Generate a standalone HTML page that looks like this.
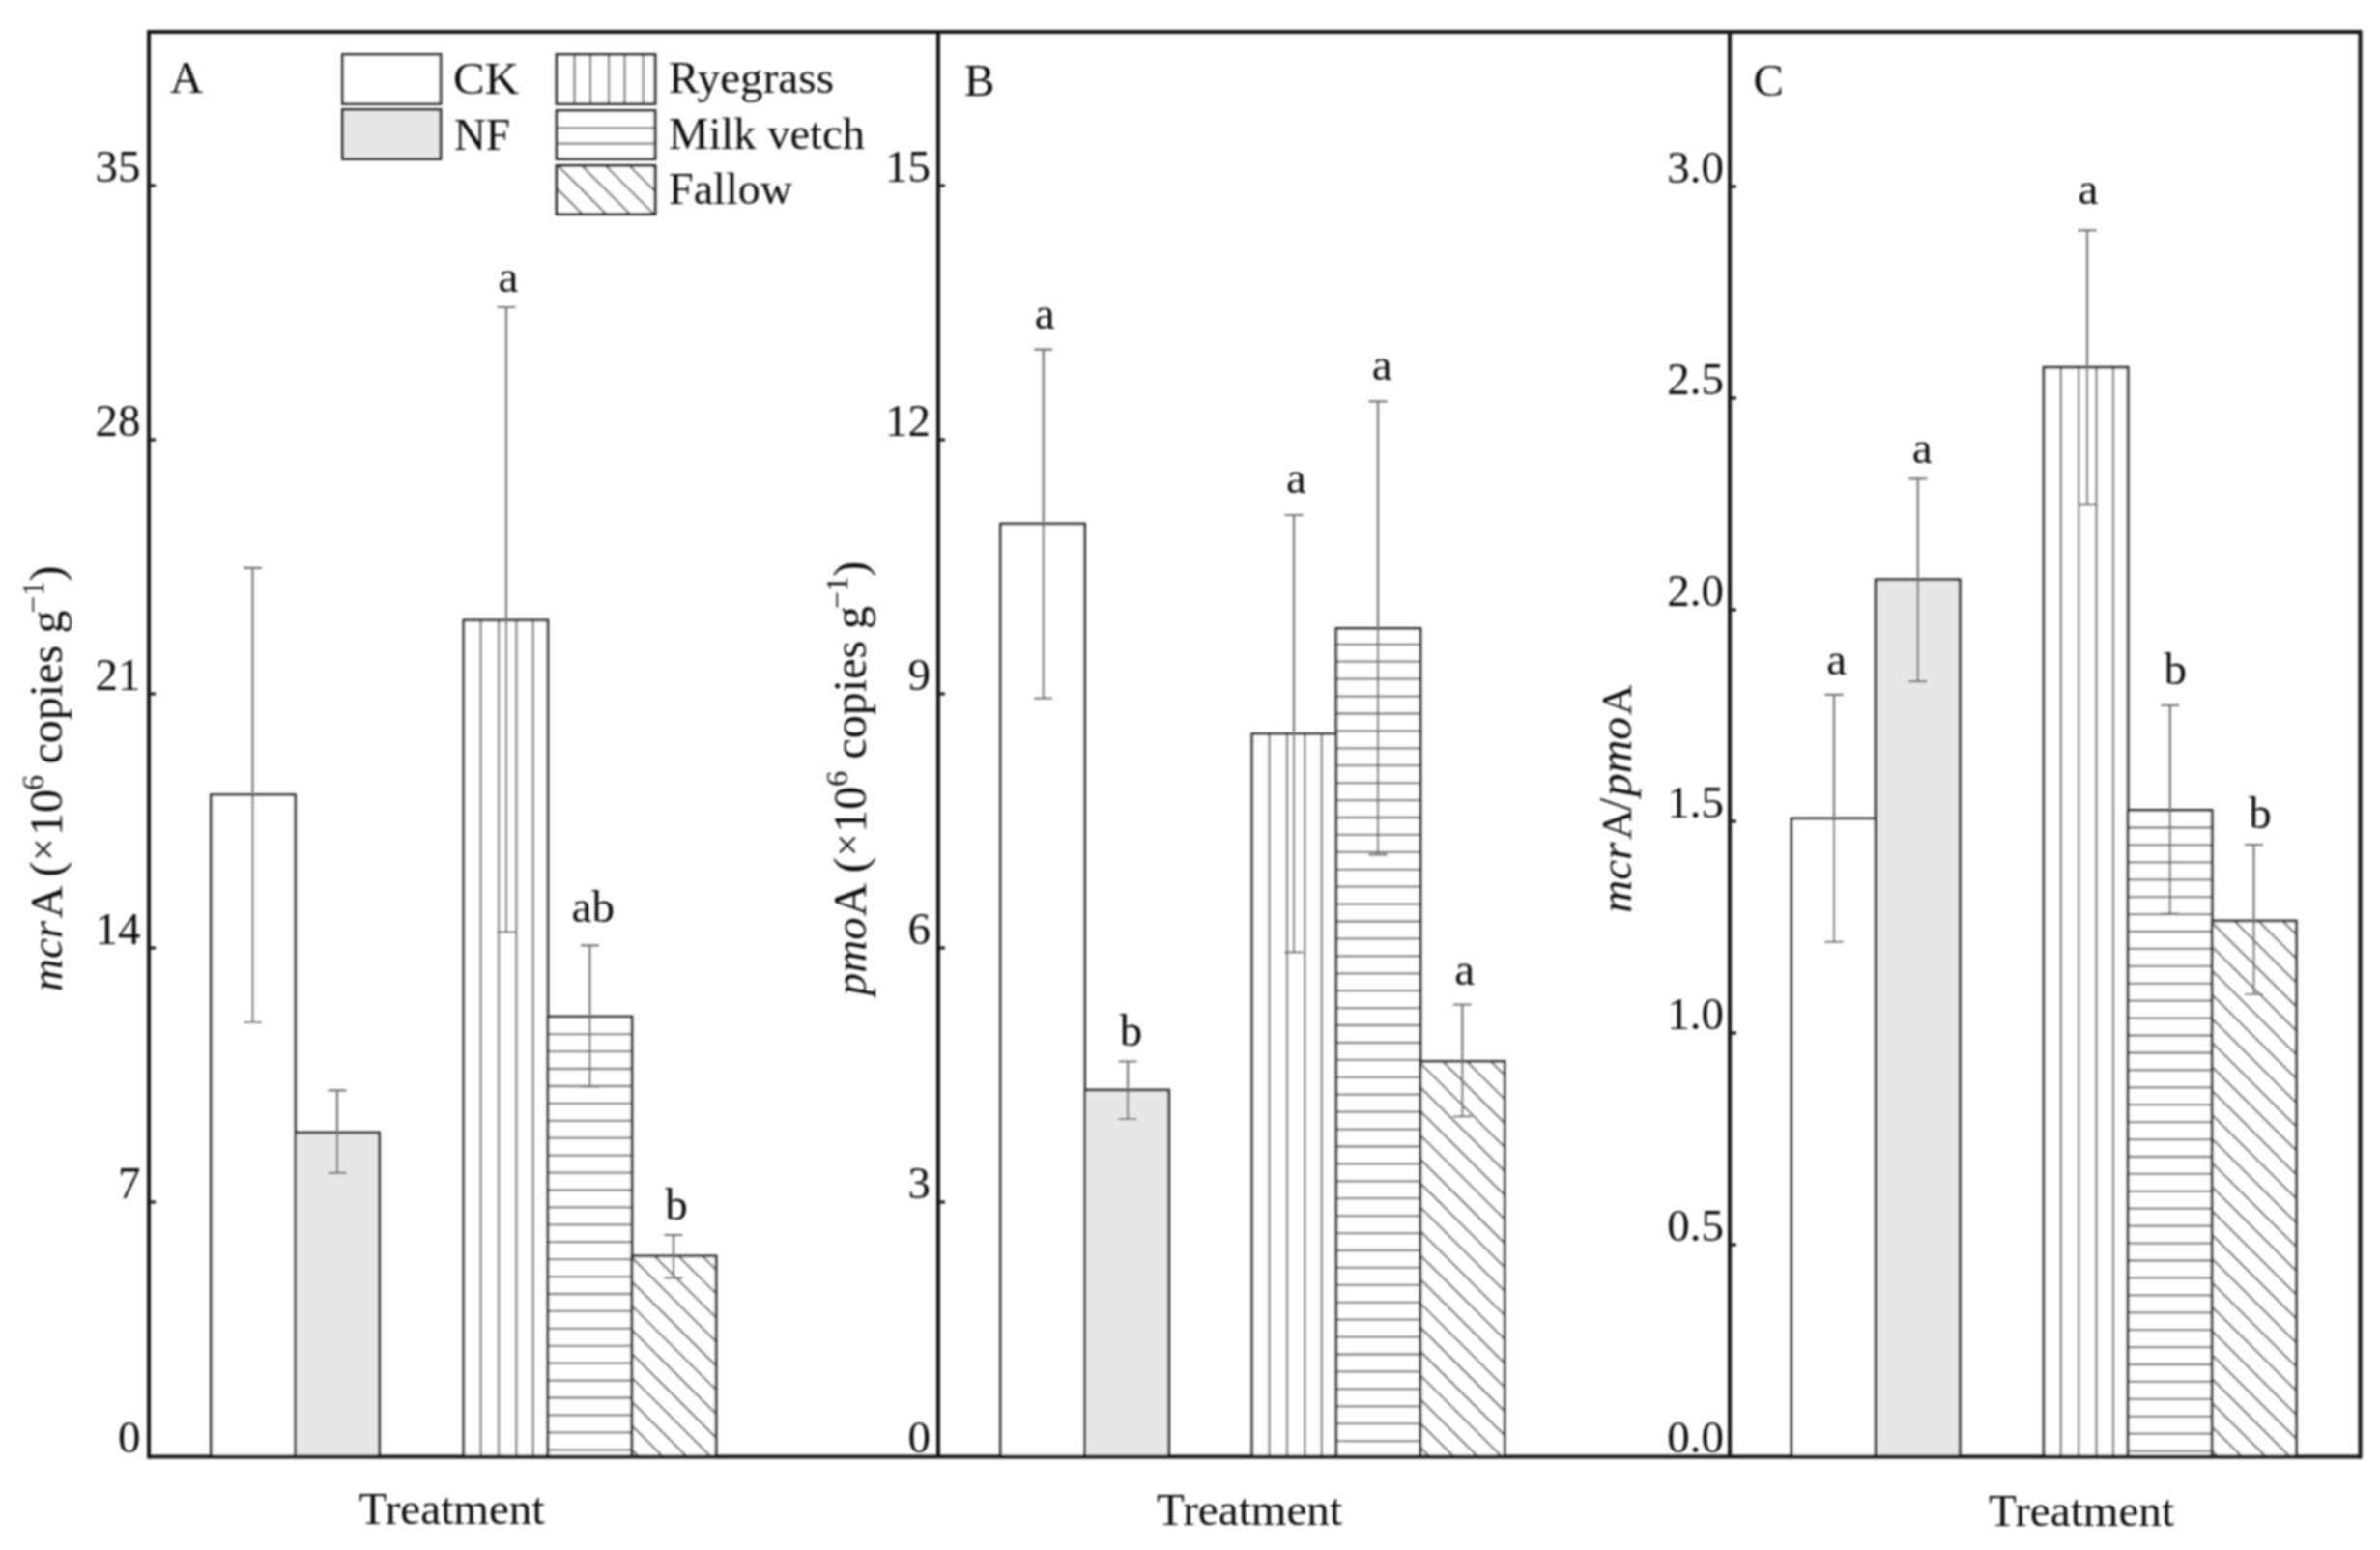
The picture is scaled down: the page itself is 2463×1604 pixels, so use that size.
<!DOCTYPE html>
<html><head><meta charset="utf-8"><title>Figure</title>
<style>
html,body{margin:0;padding:0;background:#fff;}
body{width:2463px;height:1604px;overflow:hidden;}
svg{display:block;}
text{font-family:"Liberation Serif", serif;font-size:47px;fill:#111;}
.it{font-style:italic;}
</style></head><body>
<svg width="2463" height="1604" viewBox="0 0 2463 1604">
<rect x="0" y="0" width="2463" height="1604" fill="#fff"/>
<filter id="soft" filterUnits="userSpaceOnUse" x="0" y="0" width="2463" height="1604"><feGaussianBlur stdDeviation="0.8"/></filter>
<g filter="url(#soft)">

<rect x="218.3" y="822.6" width="87.1" height="684.9" fill="#fff" stroke="#2e2e2e" stroke-width="2.8"/>
<rect x="305.4" y="1172.0" width="87.1" height="335.5" fill="#e7e7e7" stroke="#2e2e2e" stroke-width="2.8"/>
<rect x="479.8" y="641.9" width="87.1" height="865.6" fill="#fff"/>
<line x1="497.6" y1="641.9" x2="497.6" y2="1507.5" stroke="#787878" stroke-width="2.3"/>
<line x1="516.0" y1="641.9" x2="516.0" y2="1507.5" stroke="#787878" stroke-width="2.3"/>
<line x1="534.3" y1="641.9" x2="534.3" y2="1507.5" stroke="#787878" stroke-width="2.3"/>
<line x1="551.8" y1="641.9" x2="551.8" y2="1507.5" stroke="#787878" stroke-width="2.3"/>
<rect x="479.8" y="641.9" width="87.1" height="865.6" fill="none" stroke="#2e2e2e" stroke-width="2.8"/>
<rect x="566.9" y="1052.0" width="87.1" height="455.5" fill="#fff"/>
<line x1="566.9" y1="1070.2" x2="654.0" y2="1070.2" stroke="#787878" stroke-width="2.3"/>
<line x1="566.9" y1="1088.1" x2="654.0" y2="1088.1" stroke="#787878" stroke-width="2.3"/>
<line x1="566.9" y1="1106.0" x2="654.0" y2="1106.0" stroke="#787878" stroke-width="2.3"/>
<line x1="566.9" y1="1124.0" x2="654.0" y2="1124.0" stroke="#787878" stroke-width="2.3"/>
<line x1="566.9" y1="1141.9" x2="654.0" y2="1141.9" stroke="#787878" stroke-width="2.3"/>
<line x1="566.9" y1="1159.8" x2="654.0" y2="1159.8" stroke="#787878" stroke-width="2.3"/>
<line x1="566.9" y1="1177.7" x2="654.0" y2="1177.7" stroke="#787878" stroke-width="2.3"/>
<line x1="566.9" y1="1195.6" x2="654.0" y2="1195.6" stroke="#787878" stroke-width="2.3"/>
<line x1="566.9" y1="1213.6" x2="654.0" y2="1213.6" stroke="#787878" stroke-width="2.3"/>
<line x1="566.9" y1="1231.5" x2="654.0" y2="1231.5" stroke="#787878" stroke-width="2.3"/>
<line x1="566.9" y1="1249.4" x2="654.0" y2="1249.4" stroke="#787878" stroke-width="2.3"/>
<line x1="566.9" y1="1267.3" x2="654.0" y2="1267.3" stroke="#787878" stroke-width="2.3"/>
<line x1="566.9" y1="1285.2" x2="654.0" y2="1285.2" stroke="#787878" stroke-width="2.3"/>
<line x1="566.9" y1="1303.2" x2="654.0" y2="1303.2" stroke="#787878" stroke-width="2.3"/>
<line x1="566.9" y1="1321.1" x2="654.0" y2="1321.1" stroke="#787878" stroke-width="2.3"/>
<line x1="566.9" y1="1339.0" x2="654.0" y2="1339.0" stroke="#787878" stroke-width="2.3"/>
<line x1="566.9" y1="1356.9" x2="654.0" y2="1356.9" stroke="#787878" stroke-width="2.3"/>
<line x1="566.9" y1="1374.8" x2="654.0" y2="1374.8" stroke="#787878" stroke-width="2.3"/>
<line x1="566.9" y1="1392.8" x2="654.0" y2="1392.8" stroke="#787878" stroke-width="2.3"/>
<line x1="566.9" y1="1410.7" x2="654.0" y2="1410.7" stroke="#787878" stroke-width="2.3"/>
<line x1="566.9" y1="1428.6" x2="654.0" y2="1428.6" stroke="#787878" stroke-width="2.3"/>
<line x1="566.9" y1="1446.5" x2="654.0" y2="1446.5" stroke="#787878" stroke-width="2.3"/>
<line x1="566.9" y1="1464.4" x2="654.0" y2="1464.4" stroke="#787878" stroke-width="2.3"/>
<line x1="566.9" y1="1482.4" x2="654.0" y2="1482.4" stroke="#787878" stroke-width="2.3"/>
<line x1="566.9" y1="1500.3" x2="654.0" y2="1500.3" stroke="#787878" stroke-width="2.3"/>
<rect x="566.9" y="1052.0" width="87.1" height="455.5" fill="none" stroke="#2e2e2e" stroke-width="2.8"/>
<clipPath id="c654"><rect x="654.0" y="1299.8" width="87.1" height="207.7"/></clipPath>
<rect x="654.0" y="1299.8" width="87.1" height="207.7" fill="#fff"/>
<g clip-path="url(#c654)">
<line x1="654.0" y1="1177.2" x2="741.1" y2="1264.3" stroke="#787878" stroke-width="2.3"/>
<line x1="654.0" y1="1202.0" x2="741.1" y2="1289.2" stroke="#787878" stroke-width="2.3"/>
<line x1="654.0" y1="1226.9" x2="741.1" y2="1314.0" stroke="#787878" stroke-width="2.3"/>
<line x1="654.0" y1="1251.8" x2="741.1" y2="1338.8" stroke="#787878" stroke-width="2.3"/>
<line x1="654.0" y1="1276.6" x2="741.1" y2="1363.7" stroke="#787878" stroke-width="2.3"/>
<line x1="654.0" y1="1301.4" x2="741.1" y2="1388.5" stroke="#787878" stroke-width="2.3"/>
<line x1="654.0" y1="1326.3" x2="741.1" y2="1413.4" stroke="#787878" stroke-width="2.3"/>
<line x1="654.0" y1="1351.2" x2="741.1" y2="1438.2" stroke="#787878" stroke-width="2.3"/>
<line x1="654.0" y1="1376.0" x2="741.1" y2="1463.1" stroke="#787878" stroke-width="2.3"/>
<line x1="654.0" y1="1400.8" x2="741.1" y2="1487.9" stroke="#787878" stroke-width="2.3"/>
<line x1="654.0" y1="1425.7" x2="741.1" y2="1512.8" stroke="#787878" stroke-width="2.3"/>
<line x1="654.0" y1="1450.5" x2="741.1" y2="1537.7" stroke="#787878" stroke-width="2.3"/>
<line x1="654.0" y1="1475.4" x2="741.1" y2="1562.5" stroke="#787878" stroke-width="2.3"/>
<line x1="654.0" y1="1500.2" x2="741.1" y2="1587.3" stroke="#787878" stroke-width="2.3"/>
</g>
<rect x="654.0" y="1299.8" width="87.1" height="207.7" fill="none" stroke="#2e2e2e" stroke-width="2.8"/>
<path d="M252.0 587.8H271.0M252.0 1058.0H271.0M261.5 587.8V1058.0" fill="none" stroke="#747474" stroke-width="2.2"/>
<path d="M339.5 1128.4H358.5M339.5 1213.9H358.5M349.0 1128.4V1213.9" fill="none" stroke="#747474" stroke-width="2.2"/>
<path d="M514.5 318.0H533.5M514.5 964.5H533.5M524.0 318.0V964.5" fill="none" stroke="#747474" stroke-width="2.2"/>
<path d="M600.8 978.4H619.8M600.8 1124.5H619.8M610.3 978.4V1124.5" fill="none" stroke="#747474" stroke-width="2.2"/>
<path d="M687.5 1278.0H706.5M687.5 1322.3H706.5M697.0 1278.0V1322.3" fill="none" stroke="#747474" stroke-width="2.2"/>
<rect x="1035.5" y="542.0" width="87.1" height="965.5" fill="#fff" stroke="#2e2e2e" stroke-width="2.8"/>
<rect x="1122.6" y="1128.0" width="87.1" height="379.5" fill="#e7e7e7" stroke="#2e2e2e" stroke-width="2.8"/>
<rect x="1295.8" y="759.5" width="87.1" height="748.0" fill="#fff"/>
<line x1="1313.6" y1="759.5" x2="1313.6" y2="1507.5" stroke="#787878" stroke-width="2.3"/>
<line x1="1332.0" y1="759.5" x2="1332.0" y2="1507.5" stroke="#787878" stroke-width="2.3"/>
<line x1="1350.3" y1="759.5" x2="1350.3" y2="1507.5" stroke="#787878" stroke-width="2.3"/>
<line x1="1367.8" y1="759.5" x2="1367.8" y2="1507.5" stroke="#787878" stroke-width="2.3"/>
<rect x="1295.8" y="759.5" width="87.1" height="748.0" fill="none" stroke="#2e2e2e" stroke-width="2.8"/>
<rect x="1382.9" y="650.4" width="87.1" height="857.1" fill="#fff"/>
<line x1="1382.9" y1="666.8" x2="1470.0" y2="666.8" stroke="#787878" stroke-width="2.3"/>
<line x1="1382.9" y1="684.7" x2="1470.0" y2="684.7" stroke="#787878" stroke-width="2.3"/>
<line x1="1382.9" y1="702.6" x2="1470.0" y2="702.6" stroke="#787878" stroke-width="2.3"/>
<line x1="1382.9" y1="720.6" x2="1470.0" y2="720.6" stroke="#787878" stroke-width="2.3"/>
<line x1="1382.9" y1="738.5" x2="1470.0" y2="738.5" stroke="#787878" stroke-width="2.3"/>
<line x1="1382.9" y1="756.4" x2="1470.0" y2="756.4" stroke="#787878" stroke-width="2.3"/>
<line x1="1382.9" y1="774.3" x2="1470.0" y2="774.3" stroke="#787878" stroke-width="2.3"/>
<line x1="1382.9" y1="792.2" x2="1470.0" y2="792.2" stroke="#787878" stroke-width="2.3"/>
<line x1="1382.9" y1="810.2" x2="1470.0" y2="810.2" stroke="#787878" stroke-width="2.3"/>
<line x1="1382.9" y1="828.1" x2="1470.0" y2="828.1" stroke="#787878" stroke-width="2.3"/>
<line x1="1382.9" y1="846.0" x2="1470.0" y2="846.0" stroke="#787878" stroke-width="2.3"/>
<line x1="1382.9" y1="863.9" x2="1470.0" y2="863.9" stroke="#787878" stroke-width="2.3"/>
<line x1="1382.9" y1="881.8" x2="1470.0" y2="881.8" stroke="#787878" stroke-width="2.3"/>
<line x1="1382.9" y1="899.8" x2="1470.0" y2="899.8" stroke="#787878" stroke-width="2.3"/>
<line x1="1382.9" y1="917.7" x2="1470.0" y2="917.7" stroke="#787878" stroke-width="2.3"/>
<line x1="1382.9" y1="935.6" x2="1470.0" y2="935.6" stroke="#787878" stroke-width="2.3"/>
<line x1="1382.9" y1="953.5" x2="1470.0" y2="953.5" stroke="#787878" stroke-width="2.3"/>
<line x1="1382.9" y1="971.4" x2="1470.0" y2="971.4" stroke="#787878" stroke-width="2.3"/>
<line x1="1382.9" y1="989.4" x2="1470.0" y2="989.4" stroke="#787878" stroke-width="2.3"/>
<line x1="1382.9" y1="1007.3" x2="1470.0" y2="1007.3" stroke="#787878" stroke-width="2.3"/>
<line x1="1382.9" y1="1025.2" x2="1470.0" y2="1025.2" stroke="#787878" stroke-width="2.3"/>
<line x1="1382.9" y1="1043.1" x2="1470.0" y2="1043.1" stroke="#787878" stroke-width="2.3"/>
<line x1="1382.9" y1="1061.0" x2="1470.0" y2="1061.0" stroke="#787878" stroke-width="2.3"/>
<line x1="1382.9" y1="1079.0" x2="1470.0" y2="1079.0" stroke="#787878" stroke-width="2.3"/>
<line x1="1382.9" y1="1096.9" x2="1470.0" y2="1096.9" stroke="#787878" stroke-width="2.3"/>
<line x1="1382.9" y1="1114.8" x2="1470.0" y2="1114.8" stroke="#787878" stroke-width="2.3"/>
<line x1="1382.9" y1="1132.7" x2="1470.0" y2="1132.7" stroke="#787878" stroke-width="2.3"/>
<line x1="1382.9" y1="1150.6" x2="1470.0" y2="1150.6" stroke="#787878" stroke-width="2.3"/>
<line x1="1382.9" y1="1168.6" x2="1470.0" y2="1168.6" stroke="#787878" stroke-width="2.3"/>
<line x1="1382.9" y1="1186.5" x2="1470.0" y2="1186.5" stroke="#787878" stroke-width="2.3"/>
<line x1="1382.9" y1="1204.4" x2="1470.0" y2="1204.4" stroke="#787878" stroke-width="2.3"/>
<line x1="1382.9" y1="1222.3" x2="1470.0" y2="1222.3" stroke="#787878" stroke-width="2.3"/>
<line x1="1382.9" y1="1240.2" x2="1470.0" y2="1240.2" stroke="#787878" stroke-width="2.3"/>
<line x1="1382.9" y1="1258.2" x2="1470.0" y2="1258.2" stroke="#787878" stroke-width="2.3"/>
<line x1="1382.9" y1="1276.1" x2="1470.0" y2="1276.1" stroke="#787878" stroke-width="2.3"/>
<line x1="1382.9" y1="1294.0" x2="1470.0" y2="1294.0" stroke="#787878" stroke-width="2.3"/>
<line x1="1382.9" y1="1311.9" x2="1470.0" y2="1311.9" stroke="#787878" stroke-width="2.3"/>
<line x1="1382.9" y1="1329.8" x2="1470.0" y2="1329.8" stroke="#787878" stroke-width="2.3"/>
<line x1="1382.9" y1="1347.8" x2="1470.0" y2="1347.8" stroke="#787878" stroke-width="2.3"/>
<line x1="1382.9" y1="1365.7" x2="1470.0" y2="1365.7" stroke="#787878" stroke-width="2.3"/>
<line x1="1382.9" y1="1383.6" x2="1470.0" y2="1383.6" stroke="#787878" stroke-width="2.3"/>
<line x1="1382.9" y1="1401.5" x2="1470.0" y2="1401.5" stroke="#787878" stroke-width="2.3"/>
<line x1="1382.9" y1="1419.4" x2="1470.0" y2="1419.4" stroke="#787878" stroke-width="2.3"/>
<line x1="1382.9" y1="1437.4" x2="1470.0" y2="1437.4" stroke="#787878" stroke-width="2.3"/>
<line x1="1382.9" y1="1455.3" x2="1470.0" y2="1455.3" stroke="#787878" stroke-width="2.3"/>
<line x1="1382.9" y1="1473.2" x2="1470.0" y2="1473.2" stroke="#787878" stroke-width="2.3"/>
<line x1="1382.9" y1="1491.1" x2="1470.0" y2="1491.1" stroke="#787878" stroke-width="2.3"/>
<rect x="1382.9" y="650.4" width="87.1" height="857.1" fill="none" stroke="#2e2e2e" stroke-width="2.8"/>
<clipPath id="c1470"><rect x="1470.0" y="1098.5" width="87.1" height="409.0"/></clipPath>
<rect x="1470.0" y="1098.5" width="87.1" height="409.0" fill="#fff"/>
<g clip-path="url(#c1470)">
<line x1="1470.0" y1="975.9" x2="1557.1" y2="1063.0" stroke="#787878" stroke-width="2.3"/>
<line x1="1470.0" y1="1000.8" x2="1557.1" y2="1087.8" stroke="#787878" stroke-width="2.3"/>
<line x1="1470.0" y1="1025.6" x2="1557.1" y2="1112.7" stroke="#787878" stroke-width="2.3"/>
<line x1="1470.0" y1="1050.5" x2="1557.1" y2="1137.5" stroke="#787878" stroke-width="2.3"/>
<line x1="1470.0" y1="1075.3" x2="1557.1" y2="1162.4" stroke="#787878" stroke-width="2.3"/>
<line x1="1470.0" y1="1100.2" x2="1557.1" y2="1187.2" stroke="#787878" stroke-width="2.3"/>
<line x1="1470.0" y1="1125.0" x2="1557.1" y2="1212.1" stroke="#787878" stroke-width="2.3"/>
<line x1="1470.0" y1="1149.8" x2="1557.1" y2="1236.9" stroke="#787878" stroke-width="2.3"/>
<line x1="1470.0" y1="1174.7" x2="1557.1" y2="1261.8" stroke="#787878" stroke-width="2.3"/>
<line x1="1470.0" y1="1199.5" x2="1557.1" y2="1286.6" stroke="#787878" stroke-width="2.3"/>
<line x1="1470.0" y1="1224.4" x2="1557.1" y2="1311.5" stroke="#787878" stroke-width="2.3"/>
<line x1="1470.0" y1="1249.2" x2="1557.1" y2="1336.3" stroke="#787878" stroke-width="2.3"/>
<line x1="1470.0" y1="1274.1" x2="1557.1" y2="1361.2" stroke="#787878" stroke-width="2.3"/>
<line x1="1470.0" y1="1299.0" x2="1557.1" y2="1386.0" stroke="#787878" stroke-width="2.3"/>
<line x1="1470.0" y1="1323.8" x2="1557.1" y2="1410.9" stroke="#787878" stroke-width="2.3"/>
<line x1="1470.0" y1="1348.7" x2="1557.1" y2="1435.8" stroke="#787878" stroke-width="2.3"/>
<line x1="1470.0" y1="1373.5" x2="1557.1" y2="1460.6" stroke="#787878" stroke-width="2.3"/>
<line x1="1470.0" y1="1398.3" x2="1557.1" y2="1485.4" stroke="#787878" stroke-width="2.3"/>
<line x1="1470.0" y1="1423.2" x2="1557.1" y2="1510.3" stroke="#787878" stroke-width="2.3"/>
<line x1="1470.0" y1="1448.0" x2="1557.1" y2="1535.1" stroke="#787878" stroke-width="2.3"/>
<line x1="1470.0" y1="1472.9" x2="1557.1" y2="1560.0" stroke="#787878" stroke-width="2.3"/>
<line x1="1470.0" y1="1497.8" x2="1557.1" y2="1584.8" stroke="#787878" stroke-width="2.3"/>
</g>
<rect x="1470.0" y="1098.5" width="87.1" height="409.0" fill="none" stroke="#2e2e2e" stroke-width="2.8"/>
<path d="M1070.2 361.6H1089.2M1070.2 722.6H1089.2M1079.7 361.6V722.6" fill="none" stroke="#747474" stroke-width="2.2"/>
<path d="M1157.5 1098.5H1176.5M1157.5 1158.0H1176.5M1167.0 1098.5V1158.0" fill="none" stroke="#747474" stroke-width="2.2"/>
<path d="M1329.5 533.0H1348.5M1329.5 985.4H1348.5M1339.0 533.0V985.4" fill="none" stroke="#747474" stroke-width="2.2"/>
<path d="M1416.5 415.4H1435.5M1416.5 884.6H1435.5M1426.0 415.4V884.6" fill="none" stroke="#747474" stroke-width="2.2"/>
<path d="M1503.8 1039.5H1522.8M1503.8 1155.3H1522.8M1513.3 1039.5V1155.3" fill="none" stroke="#747474" stroke-width="2.2"/>
<rect x="1854.0" y="847.0" width="87.1" height="660.5" fill="#fff" stroke="#2e2e2e" stroke-width="2.8"/>
<rect x="1941.1" y="599.7" width="87.1" height="907.8" fill="#e7e7e7" stroke="#2e2e2e" stroke-width="2.8"/>
<rect x="2115.0" y="380.2" width="87.1" height="1127.3" fill="#fff"/>
<line x1="2132.8" y1="380.2" x2="2132.8" y2="1507.5" stroke="#787878" stroke-width="2.3"/>
<line x1="2151.2" y1="380.2" x2="2151.2" y2="1507.5" stroke="#787878" stroke-width="2.3"/>
<line x1="2169.5" y1="380.2" x2="2169.5" y2="1507.5" stroke="#787878" stroke-width="2.3"/>
<line x1="2187.0" y1="380.2" x2="2187.0" y2="1507.5" stroke="#787878" stroke-width="2.3"/>
<rect x="2115.0" y="380.2" width="87.1" height="1127.3" fill="none" stroke="#2e2e2e" stroke-width="2.8"/>
<rect x="2202.1" y="838.4" width="87.1" height="669.1" fill="#fff"/>
<line x1="2202.1" y1="856.5" x2="2289.2" y2="856.5" stroke="#787878" stroke-width="2.3"/>
<line x1="2202.1" y1="874.4" x2="2289.2" y2="874.4" stroke="#787878" stroke-width="2.3"/>
<line x1="2202.1" y1="892.3" x2="2289.2" y2="892.3" stroke="#787878" stroke-width="2.3"/>
<line x1="2202.1" y1="910.3" x2="2289.2" y2="910.3" stroke="#787878" stroke-width="2.3"/>
<line x1="2202.1" y1="928.2" x2="2289.2" y2="928.2" stroke="#787878" stroke-width="2.3"/>
<line x1="2202.1" y1="946.1" x2="2289.2" y2="946.1" stroke="#787878" stroke-width="2.3"/>
<line x1="2202.1" y1="964.0" x2="2289.2" y2="964.0" stroke="#787878" stroke-width="2.3"/>
<line x1="2202.1" y1="981.9" x2="2289.2" y2="981.9" stroke="#787878" stroke-width="2.3"/>
<line x1="2202.1" y1="999.9" x2="2289.2" y2="999.9" stroke="#787878" stroke-width="2.3"/>
<line x1="2202.1" y1="1017.8" x2="2289.2" y2="1017.8" stroke="#787878" stroke-width="2.3"/>
<line x1="2202.1" y1="1035.7" x2="2289.2" y2="1035.7" stroke="#787878" stroke-width="2.3"/>
<line x1="2202.1" y1="1053.6" x2="2289.2" y2="1053.6" stroke="#787878" stroke-width="2.3"/>
<line x1="2202.1" y1="1071.5" x2="2289.2" y2="1071.5" stroke="#787878" stroke-width="2.3"/>
<line x1="2202.1" y1="1089.5" x2="2289.2" y2="1089.5" stroke="#787878" stroke-width="2.3"/>
<line x1="2202.1" y1="1107.4" x2="2289.2" y2="1107.4" stroke="#787878" stroke-width="2.3"/>
<line x1="2202.1" y1="1125.3" x2="2289.2" y2="1125.3" stroke="#787878" stroke-width="2.3"/>
<line x1="2202.1" y1="1143.2" x2="2289.2" y2="1143.2" stroke="#787878" stroke-width="2.3"/>
<line x1="2202.1" y1="1161.1" x2="2289.2" y2="1161.1" stroke="#787878" stroke-width="2.3"/>
<line x1="2202.1" y1="1179.1" x2="2289.2" y2="1179.1" stroke="#787878" stroke-width="2.3"/>
<line x1="2202.1" y1="1197.0" x2="2289.2" y2="1197.0" stroke="#787878" stroke-width="2.3"/>
<line x1="2202.1" y1="1214.9" x2="2289.2" y2="1214.9" stroke="#787878" stroke-width="2.3"/>
<line x1="2202.1" y1="1232.8" x2="2289.2" y2="1232.8" stroke="#787878" stroke-width="2.3"/>
<line x1="2202.1" y1="1250.7" x2="2289.2" y2="1250.7" stroke="#787878" stroke-width="2.3"/>
<line x1="2202.1" y1="1268.7" x2="2289.2" y2="1268.7" stroke="#787878" stroke-width="2.3"/>
<line x1="2202.1" y1="1286.6" x2="2289.2" y2="1286.6" stroke="#787878" stroke-width="2.3"/>
<line x1="2202.1" y1="1304.5" x2="2289.2" y2="1304.5" stroke="#787878" stroke-width="2.3"/>
<line x1="2202.1" y1="1322.4" x2="2289.2" y2="1322.4" stroke="#787878" stroke-width="2.3"/>
<line x1="2202.1" y1="1340.3" x2="2289.2" y2="1340.3" stroke="#787878" stroke-width="2.3"/>
<line x1="2202.1" y1="1358.3" x2="2289.2" y2="1358.3" stroke="#787878" stroke-width="2.3"/>
<line x1="2202.1" y1="1376.2" x2="2289.2" y2="1376.2" stroke="#787878" stroke-width="2.3"/>
<line x1="2202.1" y1="1394.1" x2="2289.2" y2="1394.1" stroke="#787878" stroke-width="2.3"/>
<line x1="2202.1" y1="1412.0" x2="2289.2" y2="1412.0" stroke="#787878" stroke-width="2.3"/>
<line x1="2202.1" y1="1429.9" x2="2289.2" y2="1429.9" stroke="#787878" stroke-width="2.3"/>
<line x1="2202.1" y1="1447.9" x2="2289.2" y2="1447.9" stroke="#787878" stroke-width="2.3"/>
<line x1="2202.1" y1="1465.8" x2="2289.2" y2="1465.8" stroke="#787878" stroke-width="2.3"/>
<line x1="2202.1" y1="1483.7" x2="2289.2" y2="1483.7" stroke="#787878" stroke-width="2.3"/>
<line x1="2202.1" y1="1501.6" x2="2289.2" y2="1501.6" stroke="#787878" stroke-width="2.3"/>
<rect x="2202.1" y="838.4" width="87.1" height="669.1" fill="none" stroke="#2e2e2e" stroke-width="2.8"/>
<clipPath id="c2289"><rect x="2289.2" y="953.0" width="87.1" height="554.5"/></clipPath>
<rect x="2289.2" y="953.0" width="87.1" height="554.5" fill="#fff"/>
<g clip-path="url(#c2289)">
<line x1="2289.2" y1="830.4" x2="2376.3" y2="917.5" stroke="#787878" stroke-width="2.3"/>
<line x1="2289.2" y1="855.2" x2="2376.3" y2="942.3" stroke="#787878" stroke-width="2.3"/>
<line x1="2289.2" y1="880.1" x2="2376.3" y2="967.2" stroke="#787878" stroke-width="2.3"/>
<line x1="2289.2" y1="905.0" x2="2376.3" y2="992.0" stroke="#787878" stroke-width="2.3"/>
<line x1="2289.2" y1="929.8" x2="2376.3" y2="1016.9" stroke="#787878" stroke-width="2.3"/>
<line x1="2289.2" y1="954.7" x2="2376.3" y2="1041.8" stroke="#787878" stroke-width="2.3"/>
<line x1="2289.2" y1="979.5" x2="2376.3" y2="1066.6" stroke="#787878" stroke-width="2.3"/>
<line x1="2289.2" y1="1004.3" x2="2376.3" y2="1091.4" stroke="#787878" stroke-width="2.3"/>
<line x1="2289.2" y1="1029.2" x2="2376.3" y2="1116.3" stroke="#787878" stroke-width="2.3"/>
<line x1="2289.2" y1="1054.0" x2="2376.3" y2="1141.1" stroke="#787878" stroke-width="2.3"/>
<line x1="2289.2" y1="1078.9" x2="2376.3" y2="1166.0" stroke="#787878" stroke-width="2.3"/>
<line x1="2289.2" y1="1103.8" x2="2376.3" y2="1190.8" stroke="#787878" stroke-width="2.3"/>
<line x1="2289.2" y1="1128.6" x2="2376.3" y2="1215.7" stroke="#787878" stroke-width="2.3"/>
<line x1="2289.2" y1="1153.5" x2="2376.3" y2="1240.5" stroke="#787878" stroke-width="2.3"/>
<line x1="2289.2" y1="1178.3" x2="2376.3" y2="1265.4" stroke="#787878" stroke-width="2.3"/>
<line x1="2289.2" y1="1203.2" x2="2376.3" y2="1290.2" stroke="#787878" stroke-width="2.3"/>
<line x1="2289.2" y1="1228.0" x2="2376.3" y2="1315.1" stroke="#787878" stroke-width="2.3"/>
<line x1="2289.2" y1="1252.8" x2="2376.3" y2="1339.9" stroke="#787878" stroke-width="2.3"/>
<line x1="2289.2" y1="1277.7" x2="2376.3" y2="1364.8" stroke="#787878" stroke-width="2.3"/>
<line x1="2289.2" y1="1302.5" x2="2376.3" y2="1389.6" stroke="#787878" stroke-width="2.3"/>
<line x1="2289.2" y1="1327.4" x2="2376.3" y2="1414.5" stroke="#787878" stroke-width="2.3"/>
<line x1="2289.2" y1="1352.2" x2="2376.3" y2="1439.3" stroke="#787878" stroke-width="2.3"/>
<line x1="2289.2" y1="1377.1" x2="2376.3" y2="1464.2" stroke="#787878" stroke-width="2.3"/>
<line x1="2289.2" y1="1402.0" x2="2376.3" y2="1489.0" stroke="#787878" stroke-width="2.3"/>
<line x1="2289.2" y1="1426.8" x2="2376.3" y2="1513.9" stroke="#787878" stroke-width="2.3"/>
<line x1="2289.2" y1="1451.7" x2="2376.3" y2="1538.8" stroke="#787878" stroke-width="2.3"/>
<line x1="2289.2" y1="1476.5" x2="2376.3" y2="1563.6" stroke="#787878" stroke-width="2.3"/>
<line x1="2289.2" y1="1501.3" x2="2376.3" y2="1588.4" stroke="#787878" stroke-width="2.3"/>
</g>
<rect x="2289.2" y="953.0" width="87.1" height="554.5" fill="none" stroke="#2e2e2e" stroke-width="2.8"/>
<path d="M1888.5 718.8H1907.5M1888.5 974.8H1907.5M1898.0 718.8V974.8" fill="none" stroke="#747474" stroke-width="2.2"/>
<path d="M1975.3 495.4H1994.3M1975.3 705.2H1994.3M1984.8 495.4V705.2" fill="none" stroke="#747474" stroke-width="2.2"/>
<path d="M2150.5 238.4H2169.5M2150.5 522.5H2169.5M2160.0 238.4V522.5" fill="none" stroke="#747474" stroke-width="2.2"/>
<path d="M2236.3 730.0H2255.3M2236.3 945.5H2255.3M2245.8 730.0V945.5" fill="none" stroke="#747474" stroke-width="2.2"/>
<path d="M2323.0 874.0H2342.0M2323.0 1029.0H2342.0M2332.5 874.0V1029.0" fill="none" stroke="#747474" stroke-width="2.2"/>
<text x="526.0" y="302.0" text-anchor="middle">a</text>
<text x="613.8" y="954.0" text-anchor="middle">ab</text>
<text x="700.0" y="1262.0" text-anchor="middle">b</text>
<text x="1081.3" y="339.7" text-anchor="middle">a</text>
<text x="1170.4" y="1081.7" text-anchor="middle">b</text>
<text x="1341.5" y="509.5" text-anchor="middle">a</text>
<text x="1430.1" y="393.0" text-anchor="middle">a</text>
<text x="1515.6" y="1019.0" text-anchor="middle">a</text>
<text x="1900.6" y="698.4" text-anchor="middle">a</text>
<text x="1989.1" y="478.7" text-anchor="middle">a</text>
<text x="2161.0" y="211.3" text-anchor="middle">a</text>
<text x="2251.3" y="707.5" text-anchor="middle">b</text>
<text x="2339.0" y="856.5" text-anchor="middle">b</text>
<path d="M154 33H2442.5M154 1507.5H2444.0" fill="none" stroke="#141414" stroke-width="4"/>
<path d="M154 31V1509.5M971 33V1507.5M1790 33V1507.5M2442.5 31V1509.5" fill="none" stroke="#141414" stroke-width="4"/>
<text x="145.5" y="1502.5" text-anchor="end">0</text>
<line x1="154" y1="1244.0" x2="161" y2="1244.0" stroke="#141414" stroke-width="3"/>
<text x="145.5" y="1239.5" text-anchor="end">7</text>
<line x1="154" y1="981.0" x2="161" y2="981.0" stroke="#141414" stroke-width="3"/>
<text x="145.5" y="976.5" text-anchor="end">14</text>
<line x1="154" y1="718.0" x2="161" y2="718.0" stroke="#141414" stroke-width="3"/>
<text x="145.5" y="713.5" text-anchor="end">21</text>
<line x1="154" y1="455.0" x2="161" y2="455.0" stroke="#141414" stroke-width="3"/>
<text x="145.5" y="450.5" text-anchor="end">28</text>
<line x1="154" y1="192.0" x2="161" y2="192.0" stroke="#141414" stroke-width="3"/>
<text x="145.5" y="187.5" text-anchor="end">35</text>
<text x="963" y="1502.5" text-anchor="end">0</text>
<line x1="971" y1="1244.0" x2="978" y2="1244.0" stroke="#141414" stroke-width="3"/>
<text x="963" y="1239.5" text-anchor="end">3</text>
<line x1="971" y1="981.0" x2="978" y2="981.0" stroke="#141414" stroke-width="3"/>
<text x="963" y="976.5" text-anchor="end">6</text>
<line x1="971" y1="718.0" x2="978" y2="718.0" stroke="#141414" stroke-width="3"/>
<text x="963" y="713.5" text-anchor="end">9</text>
<line x1="971" y1="455.0" x2="978" y2="455.0" stroke="#141414" stroke-width="3"/>
<text x="963" y="450.5" text-anchor="end">12</text>
<line x1="971" y1="192.0" x2="978" y2="192.0" stroke="#141414" stroke-width="3"/>
<text x="963" y="187.5" text-anchor="end">15</text>
<text x="1784" y="1502.5" text-anchor="end">0.0</text>
<line x1="1790" y1="1288.0" x2="1797" y2="1288.0" stroke="#141414" stroke-width="3"/>
<text x="1784" y="1283.5" text-anchor="end">0.5</text>
<line x1="1790" y1="1069.0" x2="1797" y2="1069.0" stroke="#141414" stroke-width="3"/>
<text x="1784" y="1064.5" text-anchor="end">1.0</text>
<line x1="1790" y1="850.0" x2="1797" y2="850.0" stroke="#141414" stroke-width="3"/>
<text x="1784" y="845.5" text-anchor="end">1.5</text>
<line x1="1790" y1="631.0" x2="1797" y2="631.0" stroke="#141414" stroke-width="3"/>
<text x="1784" y="626.5" text-anchor="end">2.0</text>
<line x1="1790" y1="412.0" x2="1797" y2="412.0" stroke="#141414" stroke-width="3"/>
<text x="1784" y="407.5" text-anchor="end">2.5</text>
<line x1="1790" y1="193.0" x2="1797" y2="193.0" stroke="#141414" stroke-width="3"/>
<text x="1784" y="188.5" text-anchor="end">3.0</text>
<text x="176" y="96">A</text>
<text x="998" y="99">B</text>
<text x="1814.5" y="98.5">C</text>
<text x="467.5" y="1577" text-anchor="middle" textLength="192" lengthAdjust="spacingAndGlyphs">Treatment</text>
<text x="1293" y="1578" text-anchor="middle" textLength="192" lengthAdjust="spacingAndGlyphs">Treatment</text>
<text x="2154" y="1579" text-anchor="middle" textLength="192" lengthAdjust="spacingAndGlyphs">Treatment</text>
<g transform="translate(64 1026) rotate(-90)">
<text x="0" y="0" class="it">mcr</text>
<text x="75.5" y="0" style="font-size:47px">A</text>
<text x="118.5" y="0" style="font-size:48px">(</text>
<text x="135.0" y="-5" style="font-size:42px">×</text>
<text x="161.0" y="0" style="font-size:48px">10</text>
<text x="208.0" y="-19" style="font-size:32px">6</text>
<text x="235.5" y="0" style="font-size:48px">copies</text>
<text x="370.5" y="0" style="font-size:48px">g</text>
<text x="391.0" y="-19" style="font-size:32px">−1</text>
<text x="424.5" y="0" style="font-size:48px">)</text>
</g>
<g transform="translate(895.5 1030.3) rotate(-90)">
<text x="0" y="0" class="it">pmo</text>
<text x="81.8" y="0" style="font-size:48px">A</text>
<text x="127.0" y="0" style="font-size:48px">(</text>
<text x="144.0" y="-5" style="font-size:42px">×</text>
<text x="168.5" y="0" style="font-size:48px">10</text>
<text x="216.5" y="-19" style="font-size:32px">6</text>
<text x="244.8" y="0" style="font-size:48px">copies</text>
<text x="379.3" y="0" style="font-size:48px">g</text>
<text x="400.1" y="-19" style="font-size:32px">−1</text>
<text x="433.6" y="0" style="font-size:48px">)</text>
</g>
<g transform="translate(1688 944.7) rotate(-90)">
<text x="0" y="0" class="it">mcr</text>
<text x="75.7" y="0" style="font-size:44px">A</text>
<text x="105.7" y="0" style="font-size:48px">/</text>
<text x="120.4" y="0" class="it" style="font-size:48px">pmo</text>
<text x="204.4" y="0" style="font-size:44px">A</text>
</g>
<rect x="354.5" y="56.5" width="101.5" height="51" fill="#fff" stroke="#3a3a3a" stroke-width="3"/>
<rect x="354.5" y="113.5" width="101.5" height="51" fill="#e7e7e7" stroke="#303030" stroke-width="3"/>
<rect x="576" y="56.5" width="102" height="51" fill="#fff"/>
<line x1="594.5" y1="56.5" x2="594.5" y2="107.5" stroke="#787878" stroke-width="2.3"/>
<line x1="611" y1="56.5" x2="611" y2="107.5" stroke="#787878" stroke-width="2.3"/>
<line x1="630" y1="56.5" x2="630" y2="107.5" stroke="#787878" stroke-width="2.3"/>
<line x1="646.5" y1="56.5" x2="646.5" y2="107.5" stroke="#787878" stroke-width="2.3"/>
<line x1="665.7" y1="56.5" x2="665.7" y2="107.5" stroke="#787878" stroke-width="2.3"/>
<rect x="576" y="56.5" width="102" height="51" fill="none" stroke="#303030" stroke-width="3"/>
<rect x="576" y="114.5" width="102" height="50" fill="#fff"/>
<line x1="576" y1="132.4" x2="678" y2="132.4" stroke="#787878" stroke-width="2.3"/>
<line x1="576" y1="148.7" x2="678" y2="148.7" stroke="#787878" stroke-width="2.3"/>
<rect x="576" y="114.5" width="102" height="50" fill="none" stroke="#303030" stroke-width="3"/>
<clipPath id="cl"><rect x="576" y="171.5" width="102" height="50"/></clipPath>
<rect x="576" y="171.5" width="102" height="50" fill="#fff"/>
<g clip-path="url(#cl)">
<line x1="503.7" y1="171.5" x2="553.7" y2="221.5" stroke="#787878" stroke-width="2.3"/>
<line x1="528.3" y1="171.5" x2="578.3" y2="221.5" stroke="#787878" stroke-width="2.3"/>
<line x1="552.9" y1="171.5" x2="602.9" y2="221.5" stroke="#787878" stroke-width="2.3"/>
<line x1="577.5" y1="171.5" x2="627.5" y2="221.5" stroke="#787878" stroke-width="2.3"/>
<line x1="602.1" y1="171.5" x2="652.1" y2="221.5" stroke="#787878" stroke-width="2.3"/>
<line x1="626.7" y1="171.5" x2="676.7" y2="221.5" stroke="#787878" stroke-width="2.3"/>
<line x1="651.3" y1="171.5" x2="701.3" y2="221.5" stroke="#787878" stroke-width="2.3"/>
<line x1="675.9" y1="171.5" x2="725.9" y2="221.5" stroke="#787878" stroke-width="2.3"/>
<line x1="700.5" y1="171.5" x2="750.5" y2="221.5" stroke="#787878" stroke-width="2.3"/>
</g>
<rect x="576" y="171.5" width="102" height="50" fill="none" stroke="#2a2a2a" stroke-width="3"/>
<text x="469" y="97" textLength="68" lengthAdjust="spacingAndGlyphs">CK</text>
<text x="470" y="155" textLength="58" lengthAdjust="spacingAndGlyphs">NF</text>
<text x="692" y="95.7" textLength="171" lengthAdjust="spacingAndGlyphs">Ryegrass</text>
<text x="692" y="154.2" textLength="203" lengthAdjust="spacingAndGlyphs">Milk vetch</text>
<text x="692" y="211" textLength="128" lengthAdjust="spacingAndGlyphs">Fallow</text>
</g></svg></body></html>
